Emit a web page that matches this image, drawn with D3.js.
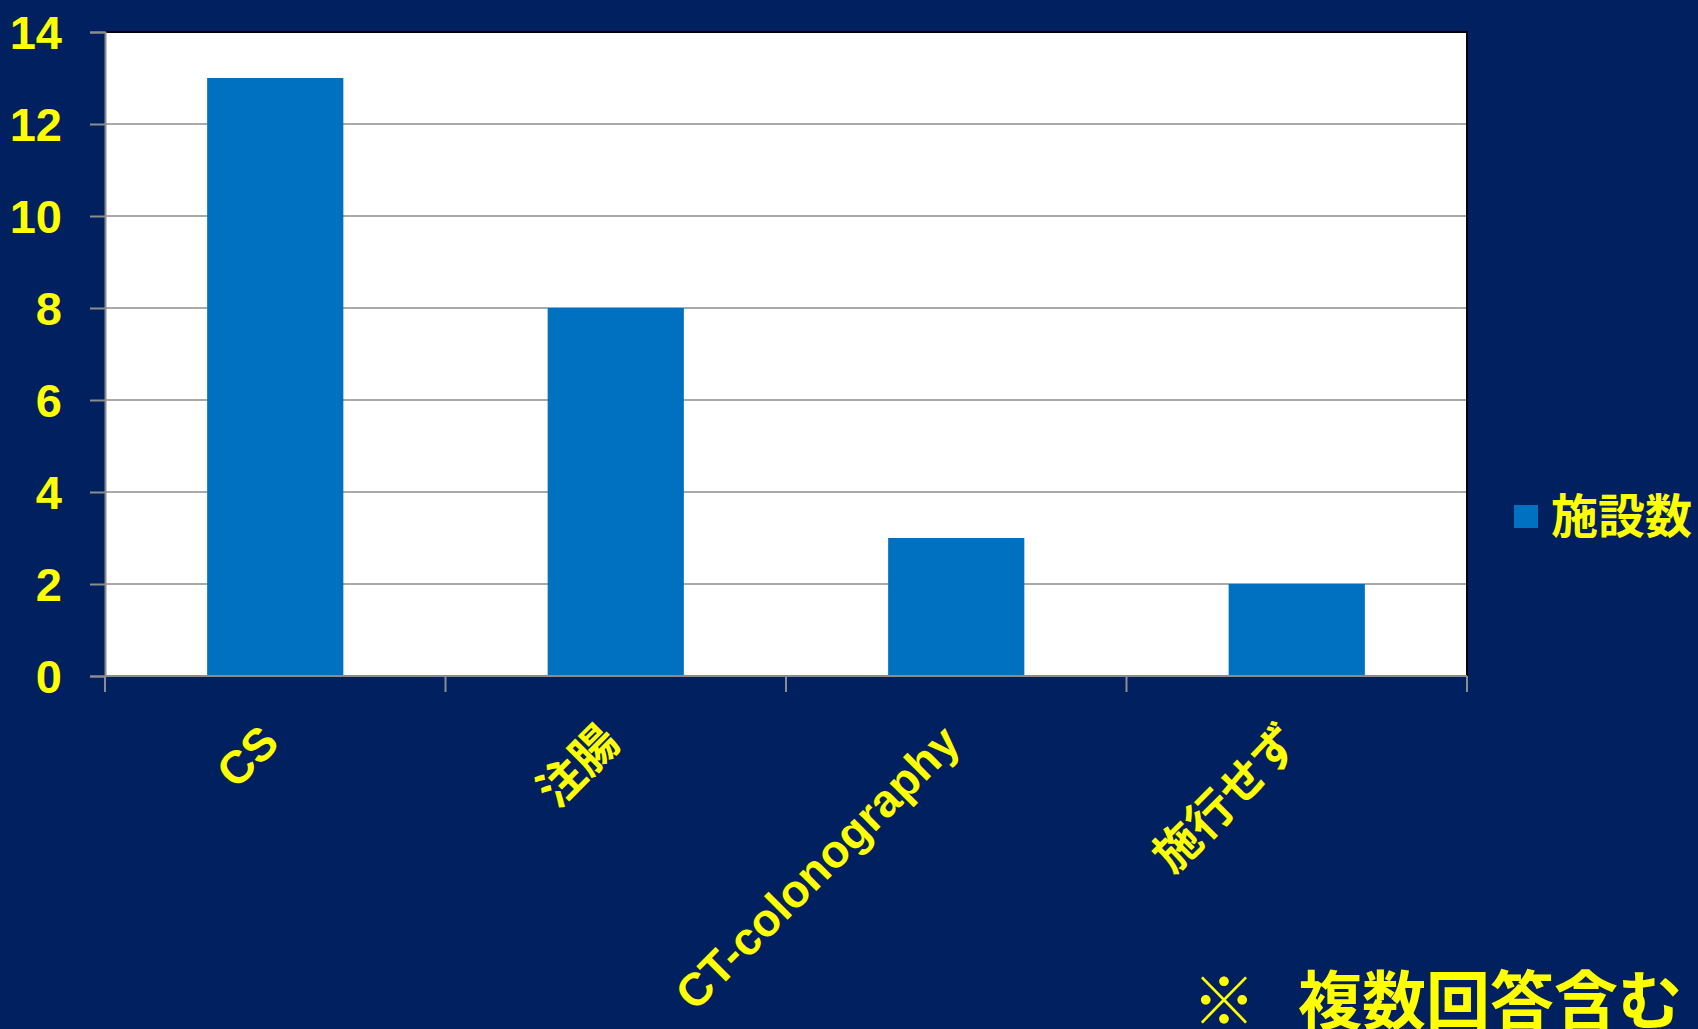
<!DOCTYPE html>
<html>
<head>
<meta charset="utf-8">
<script src="https://cdn.jsdelivr.net/npm/d3@7"></script>
<style>
  html, body { margin: 0; padding: 0; background: #002060; }
  svg { display: block; }
  text { font-family: "Liberation Sans", Arial, "Noto Sans CJK JP", sans-serif; font-weight: bold; fill: #FFFF00; }
</style>
</head>
<body>
<svg id="chart" width="1698" height="1029"></svg>
<script>
const categories = ["CS", "注腸", "CT-colonography", "施行せず"];
const values = [13, 8, 3, 2];
const yTicks = [0, 2, 4, 6, 8, 10, 12, 14];
const seriesName = "施設数";
const noteMark = "※";
const noteText = "複数回答含む";

const W = 1698, H = 1029;
const margin = { left: 105, top: 32, right: 1467, bottom: 676 };

const svg = d3.select("#chart");
svg.append("rect").attr("width", W).attr("height", H).attr("fill", "#002060");

const x = d3.scaleBand().domain(categories).range([margin.left, margin.right]).padding(0);
const y = d3.scaleLinear().domain([0, 14]).range([margin.bottom, margin.top]);

// plot area
svg.append("rect")
  .attr("x", margin.left).attr("y", margin.top)
  .attr("width", margin.right - margin.left).attr("height", margin.bottom - margin.top)
  .attr("fill", "#ffffff");

// gridlines
svg.append("g").selectAll("line").data(yTicks.filter(d => d > 0 && d < 14)).join("line")
  .attr("x1", margin.left).attr("x2", margin.right)
  .attr("y1", d => y(d)).attr("y2", d => y(d))
  .attr("stroke", "#8c8c8c").attr("stroke-width", 1.5);

// border top & right
svg.append("path")
  .attr("d", `M${margin.left},${margin.top}H${margin.right}V${margin.bottom}`)
  .attr("fill", "none").attr("stroke", "#000000").attr("stroke-width", 2);

// bars
const bw = x.bandwidth() * 0.4;
svg.append("g").selectAll("rect").data(values).join("rect")
  .attr("x", (d, i) => x(categories[i]) + (x.bandwidth() - bw) / 2)
  .attr("y", d => y(d))
  .attr("width", bw)
  .attr("height", d => y(0) - y(d))
  .attr("fill", "#0070C0");

// y axis
const yAxis = d3.axisLeft(y).tickValues(yTicks).tickSize(15).tickPadding(0).tickFormat(d3.format("d"));
const gy = svg.append("g").attr("transform", `translate(${margin.left},0)`).call(yAxis);
gy.select(".domain").attr("stroke", "#8c8c8c").attr("stroke-width", 2);
gy.selectAll(".tick line").attr("stroke", "#8c8c8c").attr("stroke-width", 2);
gy.selectAll(".tick text")
  .attr("x", -43).attr("dy", "0.35em")
  .style("font-size", "47px").style("fill", "#FFFF00")
  .style("font-family", '"Liberation Sans", Arial, sans-serif').style("font-weight", "bold");

// x axis
const gx = svg.append("g").attr("transform", `translate(0,${margin.bottom})`);
gx.append("line").attr("x1", margin.left).attr("x2", margin.right).attr("y1", 0).attr("y2", 0)
  .attr("stroke", "#8c8c8c").attr("stroke-width", 2);
const boundaries = categories.map(c => x(c)).concat([margin.right]);
gx.selectAll("line.tk").data(boundaries).join("line").attr("class", "tk")
  .attr("x1", d => d).attr("x2", d => d).attr("y1", 0).attr("y2", 16)
  .attr("stroke", "#8c8c8c").attr("stroke-width", 2);

gx.selectAll("text.cat").data(categories).join("text").attr("class", "cat")
  .attr("transform", d => `translate(${x(d) + x.bandwidth() / 2 + 6},69) rotate(-45)`)
  .attr("text-anchor", "end")
  .style("font-size", "46px")
  .text(d => d);

// legend
const lg = svg.append("g");
lg.append("rect").attr("x", 1514).attr("y", 505).attr("width", 24).attr("height", 23).attr("fill", "#0070C0");
lg.append("text").attr("x", 1551).attr("y", 516).attr("dy", "0.36em")
  .style("font-size", "47px").style("font-family", '"Noto Sans CJK JP", sans-serif')
  .text(seriesName);

// note
const nt = svg.append("text").attr("y", 1024)
  .style("font-size", "64px").style("font-family", '"Noto Sans CJK JP", sans-serif');
nt.append("tspan").attr("x", 1192).text(noteMark);
nt.append("tspan").attr("x", 1298).text(noteText);
</script>
</body>
</html>
